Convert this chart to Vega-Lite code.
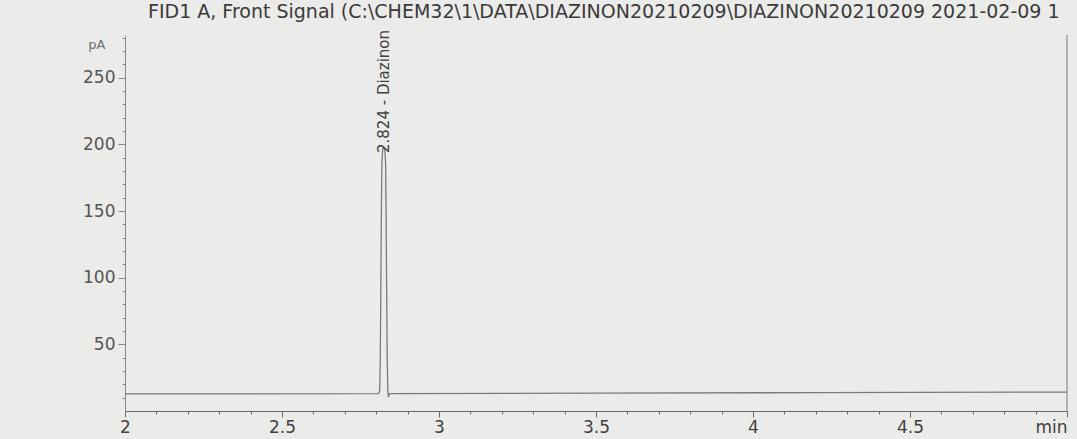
{
  "$schema": "https://vega.github.io/schema/vega-lite/v6.json",
  "autosize": {"type": "none"},
  "width": 942,
  "height": 376,
  "padding": {"left": 125, "top": 35, "right": 10, "bottom": 28},
  "background": "#ebebe9",
  "config": {
    "view": {"stroke": null},
    "font": "DejaVu Sans"
  },
  "title": {
    "text": "FID1 A, Front Signal (C:\\CHEM32\\1\\DATA\\DIAZINON20210209\\DIAZINON20210209 2021-02-09 1",
    "anchor": "start",
    "frame": "group",
    "dx": 23,
    "offset": 8,
    "fontSize": 19,
    "fontWeight": "normal",
    "color": "#3a3a3a",
    "font": "DejaVu Sans"
  },
  "datasets": {
    "signal": [
      {"t": 2.0, "pA": 12.8},
      {"t": 2.4, "pA": 12.9},
      {"t": 2.805, "pA": 13.0},
      {"t": 2.808, "pA": 13.3},
      {"t": 2.811, "pA": 15},
      {"t": 2.813, "pA": 40},
      {"t": 2.815, "pA": 100},
      {"t": 2.8165, "pA": 150},
      {"t": 2.818, "pA": 185},
      {"t": 2.8205, "pA": 196},
      {"t": 2.824, "pA": 198},
      {"t": 2.8275, "pA": 196},
      {"t": 2.83, "pA": 185},
      {"t": 2.8315, "pA": 150},
      {"t": 2.833, "pA": 100},
      {"t": 2.835, "pA": 40},
      {"t": 2.837, "pA": 16},
      {"t": 2.839, "pA": 10.5},
      {"t": 2.842, "pA": 12.8},
      {"t": 2.85, "pA": 13.0},
      {"t": 3.5, "pA": 13.4},
      {"t": 4.2, "pA": 13.8},
      {"t": 5.0, "pA": 14.2}
    ],
    "peaks": [
      {"t": 2.825, "pA": 192, "label": "2.824 - Diazinon"}
    ],
    "edge": [
      {"t": 5.0}
    ]
  },
  "resolve": {"axis": {"x": "independent", "y": "independent"}},
  "layer": [
    {
      "data": {"name": "signal"},
      "mark": {"type": "point", "opacity": 0},
      "encoding": {
        "x": {
          "field": "t",
          "type": "quantitative",
          "scale": {"domain": [2, 5], "nice": false, "zero": false},
          "axis": {
            "orient": "bottom",
            "title": null,
            "values": [2.1,2.2,2.3,2.4,2.6,2.7,2.8,2.9,3.1,3.2,3.3,3.4,3.6,3.7,3.8,3.9,4.1,4.2,4.3,4.4,4.6,4.7,4.8,4.9],
            "labels": false,
            "grid": false,
            "domain": false,
            "tickColor": "#6a6a6a",
            "tickSize": 3,
            "tickWidth": 1
          }
        },
        "y": {
          "field": "pA",
          "type": "quantitative",
          "scale": {"domain": [0, 282], "nice": false},
          "axis": {
            "orient": "left",
            "title": null,
            "values": [10,20,30,40,60,70,80,90,110,120,130,140,160,170,180,190,210,220,230,240,260,270,280],
            "labels": false,
            "grid": false,
            "domain": false,
            "tickColor": "#8a8a8a",
            "tickSize": 3,
            "tickWidth": 1
          }
        }
      }
    },
    {
      "data": {"name": "signal"},
      "mark": {"type": "line", "color": "#7a7a7a", "strokeWidth": 1.3, "interpolate": "linear"},
      "encoding": {
        "x": {
          "field": "t",
          "type": "quantitative",
          "axis": {
            "orient": "bottom",
            "title": null,
            "values": [2, 2.5, 3, 3.5, 4, 4.5, 5],
            "labelExpr": "datum.value >= 4.99 ? 'min' : format(datum.value, '')",
            "labelAlign": {"condition": {"test": "datum.value >= 4.99", "value": "right"}, "value": "center"},
            "labelFontSize": 17,
            "labelFont": "DejaVu Sans",
            "labelColor": "#404040",
            "labelPadding": 2,
            "labelOverlap": false,
            "labelFlush": false,
            "grid": false,
            "domainColor": "#6a6a6a",
            "domainWidth": 1.2,
            "tickColor": "#6a6a6a",
            "tickSize": 6,
            "tickWidth": 1
          }
        },
        "y": {
          "field": "pA",
          "type": "quantitative",
          "axis": {
            "orient": "left",
            "title": "pA",
            "titleAngle": 0,
            "titleX": -20,
            "titleY": 9,
            "titleAlign": "right",
            "titleBaseline": "middle",
            "titleFontSize": 13,
            "titleFont": "DejaVu Sans",
            "titleFontWeight": "normal",
            "titleColor": "#707070",
            "values": [50, 100, 150, 200, 250],
            "labelFontSize": 17,
            "labelFont": "DejaVu Sans",
            "labelColor": "#555555",
            "labelPadding": 3,
            "labelOverlap": false,
            "grid": false,
            "domainColor": "#8a8a8a",
            "domainWidth": 1,
            "tickColor": "#8a8a8a",
            "tickSize": 7,
            "tickWidth": 1
          }
        }
      }
    },
    {
      "data": {"name": "edge"},
      "mark": {"type": "rule", "color": "#8a8a8a", "strokeWidth": 1.2},
      "encoding": {
        "x": {"field": "t", "type": "quantitative", "axis": null}
      }
    },
    {
      "data": {"name": "peaks"},
      "mark": {"type": "text", "angle": 270, "align": "left", "baseline": "middle", "dx": 2, "fontSize": 15, "font": "DejaVu Sans", "color": "#404040"},
      "encoding": {
        "x": {"field": "t", "type": "quantitative", "axis": null},
        "y": {"field": "pA", "type": "quantitative", "axis": null},
        "text": {"field": "label"}
      }
    }
  ]
}
